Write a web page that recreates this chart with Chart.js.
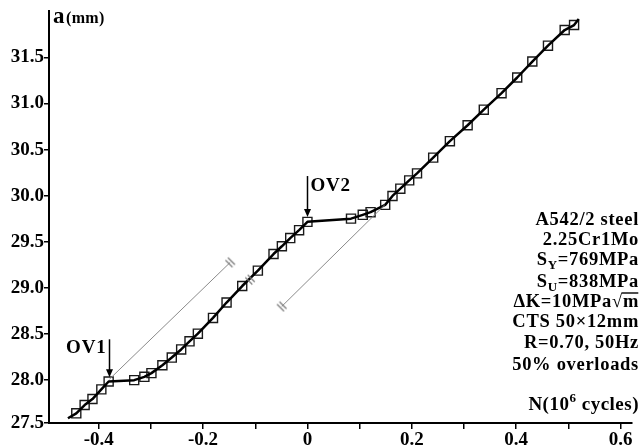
<!DOCTYPE html>
<html>
<head>
<meta charset="utf-8">
<script src="https://cdn.jsdelivr.net/npm/chart.js@4.4.1/dist/chart.umd.min.js"></script>
<style>
  html, body { margin: 0; padding: 0; background: #fff; }
  #wrap { width: 640px; height: 446px; }
</style>
</head>
<body>
<div id="wrap"><canvas id="crackChart" width="640" height="446"></canvas></div>
<script>
(function () {
  "use strict";

  // measured points (N in 10^6 cycles, a in mm)
  var cyclesN = [-0.443, -0.427, -0.412, -0.395, -0.381, -0.332, -0.3125, -0.299, -0.278, -0.260,
    -0.242, -0.226, -0.210, -0.181, -0.155, -0.125, -0.095, -0.065, -0.049, -0.033,
    -0.016, 0.0, 0.0835, 0.106, 0.121, 0.149, 0.163, 0.178, 0.195, 0.210,
    0.241, 0.273, 0.307, 0.338, 0.372, 0.402, 0.431, 0.461, 0.493, 0.511];
  var crackA = [27.64, 27.73, 27.795, 27.90, 27.985, 28.00, 28.036, 28.076, 28.162, 28.245,
    28.333, 28.421, 28.504, 28.675, 28.842, 29.021, 29.188, 29.368, 29.452, 29.541,
    29.627, 29.717, 29.752, 29.793, 29.822, 29.901, 29.998, 30.077, 30.167, 30.243,
    30.414, 30.592, 30.765, 30.934, 31.113, 31.283, 31.456, 31.628, 31.798, 31.852];

  // ends of the fitted curve
  var curveStartN = -0.459, curveStartA = 27.586;
  var curveEndN = 0.520, curveEndA = 31.917;

  // thin reference lines (no overload)
  var refLineAN = [-0.3795, -0.148];
  var refLineAA = [28.01, 29.277];
  var refLineBN = [-0.0493, 0.148];
  var refLineBA = [28.799, 29.90];
  var hashOnCurveN = [-0.110];
  var hashOnCurveA = [29.09];

  // overload arrows
  var arrowText = ["OV1", "OV2"];
  var arrowN = [-0.381, -0.001];
  var arrowTopA = [28.443, 30.214];
  var arrowTipA = [28.03, 29.77];

  // axes
  var xTickValues = [-0.4, -0.3, -0.2, -0.1, 0, 0.1, 0.2, 0.3, 0.4, 0.5, 0.6];
  var xTickLabels = ["-0.4", "", "-0.2", "", "0", "", "0.2", "", "0.4", "", "0.6"];
  var yTickValues = [27.5, 28.0, 28.5, 29.0, 29.5, 30.0, 30.5, 31.0, 31.5];
  var yTickLabels = ["27.5", "28.0", "28.5", "29.0", "29.5", "30.0", "30.5", "31.0", "31.5"];

  // specimen info, right aligned (parts: text, kind)
  var infoLines = [
    [["A542/2 steel", "n"]],
    [["2.25Cr1Mo", "n"]],
    [["S", "n"], ["Y", "sub"], ["=769MPa", "n"]],
    [["S", "n"], ["U", "sub"], ["=838MPa", "n"]],
    [["\u0394K=10MPa\u221A", "n"], ["m", "over"]],
    [["CTS 50\u00D712mm", "n"]],
    [["R=0.70, 50Hz", "n"]],
    [["50% overloads", "n"]]
  ];
  var infoBaselines = [225, 245, 265, 287, 307, 327, 347.5, 370];

  var SERIF = '"Liberation Serif", "Times New Roman", serif';

  function xy(ns, as) {
    return ns.map(function (n, i) {
      return { x: n, y: as[i] };
    });
  }

  function makeHash() {
    var c = document.createElement("canvas");
    c.width = 12;
    c.height = 12;
    var g = c.getContext("2d");
    g.strokeStyle = "#7a7a7a";
    g.lineWidth = 1.2;
    [-1.7, 1.7].forEach(function (o) {
      var ox = o * 0.707, oy = -o * 0.707;
      g.beginPath();
      g.moveTo(6 + ox - 3.5, 6 + oy - 3.5);
      g.lineTo(6 + ox + 3.5, 6 + oy + 3.5);
      g.stroke();
    });
    return c;
  }

  function partFont(kind) {
    if (kind === "sub" || kind === "sup") return "bold 13px " + SERIF;
    return "bold 18px " + SERIF;
  }

  function setSpacing(ctx, px) {
    if ("letterSpacing" in ctx) ctx.letterSpacing = px + "px";
  }

  function drawRich(ctx, parts, rightX, baseline, spacing, mainFont) {
    var widths = [];
    var total = 0;
    parts.forEach(function (p) {
      ctx.font = p[1] === "n" || p[1] === "over" ? mainFont : partFont(p[1]);
      setSpacing(ctx, spacing);
      var w = ctx.measureText(p[0]).width;
      widths.push(w);
      total += w;
    });
    var x = rightX - total;
    parts.forEach(function (p, i) {
      ctx.font = p[1] === "n" || p[1] === "over" ? mainFont : partFont(p[1]);
      setSpacing(ctx, spacing);
      var dy = 0;
      if (p[1] === "sub") dy = 4;
      if (p[1] === "sup") dy = -8;
      ctx.fillText(p[0], x, baseline + dy);
      if (p[1] === "over") {
        ctx.beginPath();
        ctx.lineWidth = 1.4;
        ctx.moveTo(x - 1, baseline - 14);
        ctx.lineTo(x + widths[i] - spacing, baseline - 14);
        ctx.stroke();
      }
      x += widths[i];
    });
  }

  var notesPlugin = {
    id: "notes",
    afterDraw: function (chart) {
      var ctx = chart.ctx;
      var xs = chart.scales.x;
      var ys = chart.scales.y;
      ctx.save();
      ctx.fillStyle = "#000";
      ctx.strokeStyle = "#000";
      ctx.textAlign = "left";
      ctx.textBaseline = "alphabetic";

      // overload arrows
      arrowN.forEach(function (n, i) {
        var x = Math.round(xs.getPixelForValue(n)) + 0.5;
        var yTop = ys.getPixelForValue(arrowTopA[i]);
        var yTip = ys.getPixelForValue(arrowTipA[i]);
        ctx.beginPath();
        ctx.lineWidth = 1.5;
        ctx.moveTo(x, yTop);
        ctx.lineTo(x, yTip - 6);
        ctx.stroke();
        ctx.beginPath();
        ctx.moveTo(x - 3.5, yTip - 8);
        ctx.lineTo(x + 3.5, yTip - 8);
        ctx.lineTo(x, yTip);
        ctx.closePath();
        ctx.fill();

        ctx.font = "bold 19px " + SERIF;
        setSpacing(ctx, 0.8);
        if (i === 0) {
          ctx.textAlign = "right";
          ctx.fillText(arrowText[i], x - 3, yTop + 14);
        } else {
          ctx.textAlign = "left";
          ctx.fillText(arrowText[i], x + 3, yTop + 15);
        }
      });

      // specimen info
      ctx.textAlign = "left";
      infoLines.forEach(function (parts, i) {
        drawRich(ctx, parts, 639, infoBaselines[i], 0.7, "bold 18.5px " + SERIF);
      });

      // axis titles
      ctx.font = "bold 23px " + SERIF;
      setSpacing(ctx, 0);
      ctx.fillText("a", 53, 23);
      ctx.font = "bold 16px " + SERIF;
      setSpacing(ctx, 0.3);
      ctx.fillText("(mm)", 66, 23);

      drawRich(ctx, [["N(10", "n"], ["6", "sup"], [" cycles)", "n"]], 639, 410, 0.5, "bold 19px " + SERIF);

      ctx.restore();
    }
  };

  function initChart() {
    var canvas = document.getElementById("crackChart");
    if (!canvas) return;
    var hash = makeHash();

    var lineData = [{ x: curveStartN, y: curveStartA }]
      .concat(xy(cyclesN, crackA))
      .concat([{ x: curveEndN, y: curveEndA }]);

    new Chart(canvas.getContext("2d"), {
      type: "scatter",
      data: {
        datasets: [
          {
            label: "ref A",
            data: xy(refLineAN, refLineAA),
            showLine: true,
            borderColor: "#8a8a8a",
            borderWidth: 1,
            pointStyle: hash,
            pointRadius: [0, 6]
          },
          {
            label: "ref B",
            data: xy(refLineBN, refLineBA),
            showLine: true,
            borderColor: "#8a8a8a",
            borderWidth: 1,
            pointStyle: hash,
            pointRadius: [6, 0]
          },
          {
            label: "hash",
            data: xy(hashOnCurveN, hashOnCurveA),
            showLine: false,
            pointStyle: hash,
            pointRadius: 6
          },
          {
            label: "curve",
            data: lineData,
            showLine: true,
            borderColor: "#000",
            borderWidth: 2.5,
            tension: 0,
            borderJoinStyle: "round",
            pointRadius: 0
          },
          {
            label: "a",
            data: xy(cyclesN, crackA),
            showLine: false,
            pointStyle: "rect",
            pointRadius: 6.4,
            borderColor: "#1a1a1a",
            borderWidth: 1.4,
            backgroundColor: "rgba(0,0,0,0)"
          }
        ]
      },
      options: {
        responsive: false,
        animation: false,
        events: [],
        layout: { padding: { top: 10, right: 2, left: 0, bottom: 0 } },
        plugins: {
          legend: { display: false },
          tooltip: { enabled: false }
        },
        scales: {
          x: {
            type: "linear",
            min: -0.4953,
            max: 0.6224,
            afterBuildTicks: function (scale) {
              scale.ticks = xTickValues.map(function (v) {
                return { value: v };
              });
            },
            afterFit: function (scale) {
              scale.height = 23;
            },
            ticks: {
              autoSkip: false,
              maxRotation: 0,
              padding: 0,
              color: "#000",
              font: { family: SERIF, size: 19, weight: "bold" },
              callback: function (value, index) {
                return xTickLabels[index];
              }
            },
            grid: {
              display: true,
              drawOnChartArea: false,
              drawTicks: true,
              tickLength: 6,
              color: "#000",
              lineWidth: 1.5
            },
            border: { display: true, color: "#000", width: 2 }
          },
          y: {
            type: "linear",
            min: 27.535,
            max: 32.0,
            afterBuildTicks: function (scale) {
              scale.ticks = yTickValues.map(function (v) {
                return { value: Math.max(v, scale.min) };
              });
            },
            afterFit: function (scale) {
              scale.width = 49;
            },
            ticks: {
              autoSkip: false,
              padding: 0,
              color: "#000",
              font: { family: SERIF, size: 19, weight: "bold" },
              callback: function (value, index) {
                return yTickLabels[index];
              }
            },
            grid: {
              display: true,
              drawOnChartArea: false,
              drawTicks: true,
              tickLength: 5,
              color: "#000",
              lineWidth: 1.5
            },
            border: { display: true, color: "#000", width: 2 }
          }
        }
      },
      plugins: [notesPlugin]
    });
  }

  initChart();
})();
</script>
</body>
</html>
